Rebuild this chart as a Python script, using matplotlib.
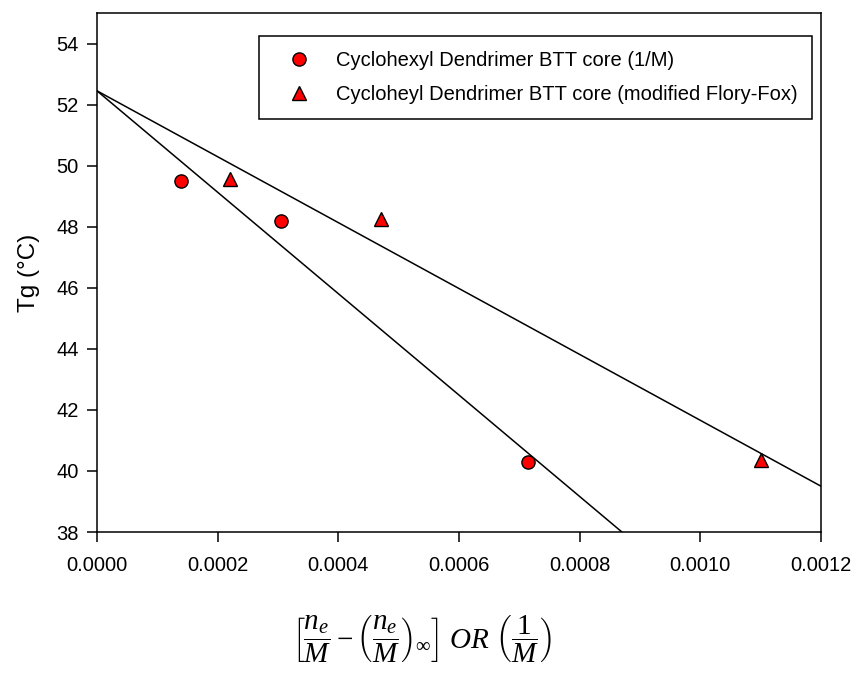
import matplotlib
matplotlib.use("Agg")
import matplotlib.pyplot as plt

plt.rcParams['font.family'] = ['Liberation Sans', 'DejaVu Sans']
plt.rcParams['mathtext.fontset'] = 'custom'
plt.rcParams['mathtext.rm'] = 'Liberation Serif'
plt.rcParams['mathtext.it'] = 'Liberation Serif:italic'

# data
circ_x = [0.00014, 0.000305, 0.000715]
circ_y = [49.5, 48.2, 40.3]
tri_x = [0.00022, 0.00047, 0.0011]
tri_y = [49.55, 48.25, 40.35]

# fitted lines (end points)
fit1_x = [0.0, 0.00087]
fit1_y = [52.45, 38.0]
fit2_x = [0.0, 0.0012]
fit2_y = [52.45, 39.5]

xticks = [0.0, 0.0002, 0.0004, 0.0006, 0.0008, 0.0010, 0.0012]
xticklabels = ['0.0000', '0.0002', '0.0004', '0.0006', '0.0008', '0.0010', '0.0012']
yticks = [38, 40, 42, 44, 46, 48, 50, 52, 54]

fig = plt.figure(figsize=(8.57, 6.77), dpi=100)
ax = fig.add_axes([97/857, 1 - 532/677, (821-97)/857, (532-13)/677])

ax.plot(fit1_x, fit1_y, color='black', lw=1.1, zorder=2)
ax.plot(fit2_x, fit2_y, color='black', lw=1.1, zorder=2)
ax.plot(circ_x, circ_y, 'o', ms=9.5, mfc='red', mec='black', mew=1.0,
        ls='none', label='Cyclohexyl Dendrimer BTT core (1/M)', zorder=3)
ax.plot(tri_x, tri_y, '^', ms=9.5, mfc='red', mec='black', mew=1.0,
        ls='none', label='Cycloheyl Dendrimer BTT core (modified Flory-Fox)', zorder=3)

ax.set_xlim(0, 0.0012)
ax.set_ylim(38, 55)
ax.set_xticks(xticks)
ax.set_xticklabels(xticklabels)
ax.set_yticks(yticks)
ax.tick_params(direction='out', length=7, width=1.1, labelsize=14.5,
               top=False, right=False)
ax.tick_params(axis='x', pad=10)
ax.tick_params(axis='y', pad=6)
for s in ax.spines.values():
    s.set_linewidth(1.1)

ax.set_ylabel('Tg (\u00b0C)', fontsize=17.5, labelpad=12)

# legend box: x 259..812, top at y 36 (pixels)
leg = ax.legend(loc='upper left',
                bbox_to_anchor=((259-97)/724, (532-36)/519 - 0.3, (812-259)/724, 0.3),
                mode='expand', fontsize=14.5, frameon=True, fancybox=False,
                edgecolor='black', handletextpad=0.55, borderpad=0.75,
                labelspacing=0.75, handlelength=2.5, borderaxespad=0)
leg.get_frame().set_linewidth(1.1)
leg.get_frame().set_alpha(1)

fig.text(422/857, 1 - 639/677,
         r'$\left[\dfrac{n_e}{M}-\left(\dfrac{n_e}{M}\right)_{\infty}\right]\ OR\ \left(\dfrac{1}{M}\right)$',
         ha='center', va='center', fontsize=21)

fig.savefig('out.png', dpi=100)
